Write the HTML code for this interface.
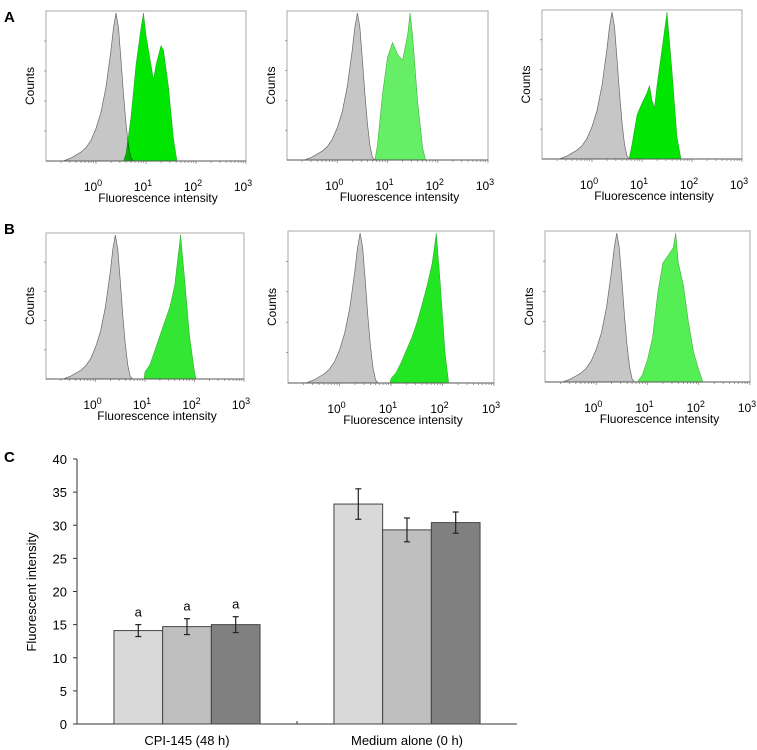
<!DOCTYPE html>
<html><head><meta charset="utf-8"><style>
body{margin:0;background:#fff}
svg{display:block;font-family:"Liberation Sans",sans-serif}
</style></head><body>
<svg id="fig" width="757" height="750" viewBox="0 0 757 750">
<text x="4" y="22" font-size="15" font-weight="bold">A</text>
<text x="4" y="234" font-size="15" font-weight="bold">B</text>
<text x="4" y="462" font-size="15" font-weight="bold">C</text>
</svg>
<script>
const NS="http://www.w3.org/2000/svg";
const svg=document.getElementById('fig');
function mk(t,a,p){const e=document.createElementNS(NS,t);for(const k in a)e.setAttribute(k,a[k]);(p||svg).appendChild(e);return e;}

// ---- Histogram data (log10 fluorescence, relative counts) ----
const grayLogA1=[-0.65,-0.5,-0.4,-0.3,-0.2,-0.1,0,0.1,0.2,0.3,0.35,0.4,0.45,0.5,0.55,0.6,0.65,0.7,0.75];
const grayCntA1=[0,0.02,0.04,0.06,0.09,0.14,0.22,0.33,0.5,0.75,0.9,1.0,0.9,0.68,0.45,0.25,0.1,0.02,0];
const greenLogA1=[0.55,0.6,0.7,0.8,0.9,0.95,1.0,1.1,1.15,1.2,1.3,1.35,1.45,1.55,1.62];
const greenCntA1=[0,0.05,0.3,0.65,0.9,1.0,0.85,0.65,0.55,0.65,0.78,0.75,0.5,0.15,0];
const greenLogA2=[0.75,0.8,0.9,1.0,1.1,1.2,1.3,1.4,1.45,1.5,1.6,1.7,1.76];
const greenCntA2=[0,0.1,0.45,0.7,0.8,0.72,0.68,0.85,1.0,0.85,0.4,0.08,0];
const greenLogA3=[0.74,0.8,0.9,1.0,1.1,1.15,1.2,1.25,1.3,1.4,1.5,1.6,1.7,1.78];
const greenCntA3=[0,0.1,0.3,0.38,0.45,0.5,0.4,0.35,0.5,0.75,1.0,0.6,0.15,0];
const greenLogB1=[0.98,1.0,1.1,1.2,1.3,1.4,1.5,1.6,1.65,1.72,1.8,1.9,2.0,2.03];
const greenCntB1=[0,0.05,0.1,0.2,0.3,0.4,0.5,0.65,0.8,1.0,0.7,0.3,0.05,0];
const greenLogB2=[0.98,1.0,1.1,1.2,1.3,1.4,1.5,1.6,1.7,1.8,1.88,1.95,2.05,2.12];
const greenCntB2=[0,0.03,0.07,0.14,0.22,0.3,0.4,0.52,0.65,0.8,1.0,0.7,0.2,0];
const greenLogB3=[0.8,0.9,1.0,1.1,1.2,1.3,1.4,1.5,1.55,1.6,1.7,1.8,1.9,2.0,2.08];
const greenCntB3=[0,0.05,0.15,0.3,0.6,0.8,0.85,0.9,1.0,0.8,0.65,0.4,0.2,0.08,0];

const panels=[
 {n:'a1',x:46,y:11,w:200,h:150,gl:grayLogA1,gc:grayCntA1,sl:greenLogA1,sc:greenCntA1,col:'#00e600'},
 {n:'a2',x:287,y:11,w:201,h:149,gl:grayLogA1,gc:grayCntA1,sl:greenLogA2,sc:greenCntA2,col:'#66ee66'},
 {n:'a3',x:542,y:10,w:200,h:149,gl:grayLogA1,gc:grayCntA1,sl:greenLogA3,sc:greenCntA3,col:'#00e600'},
 {n:'b1',x:46,y:233,w:198,h:146,gl:grayLogA1,gc:grayCntA1,sl:greenLogB1,sc:greenCntB1,col:'#33e633'},
 {n:'b2',x:288,y:231,w:206,h:152,gl:grayLogA1,gc:grayCntA1,sl:greenLogB2,sc:greenCntB2,col:'#22e622'},
 {n:'b3',x:545,y:231,w:205,h:151,gl:grayLogA1,gc:grayCntA1,sl:greenLogB3,sc:greenCntB3,col:'#55ee55'}
];
panels.forEach(p=>{
  const g=mk('g',{});
  
  
  const X=v=>p.x+(v+1)/4*p.w, Y=c=>p.y+p.h-c*(p.h-2);
  const area=(ls,cs)=>{let d='M'+X(ls[0])+','+Y(0);ls.forEach((l,i)=>d+=' L'+X(l).toFixed(1)+','+Y(cs[i]).toFixed(1));return d+' L'+X(ls[ls.length-1])+','+Y(0)+'Z';};
  const frame=mk('rect',{x:p.x,y:p.y,width:p.w,height:p.h,fill:'none',stroke:'#aaa','stroke-width':1},g);
  
  
  const gr=mk('path',{d:area(p.gl,p.gc),fill:'#c6c6c6',stroke:'#666','stroke-width':0.7},g);
  
  
  const gn=mk('path',{d:area(p.sl,p.sc),fill:p.col,stroke:'#1a8a1a','stroke-width':0.4,style:'mix-blend-mode:multiply'},g);
  
  
  mk('line',{x1:p.x,y1:p.y+p.h,x2:p.x+p.w,y2:p.y+p.h,stroke:'#555','stroke-width':1},g);
  for(let d=-1;d<3;d++)for(let k=2;k<=10;k++){const xx=X(d+Math.log10(k));mk('line',{x1:xx,y1:p.y+p.h,x2:xx,y2:p.y+p.h+(k==10?3:2),stroke:'#777','stroke-width':0.7},g);}
  for(let k=1;k<=4;k++){const yy=p.y+p.h*k/5;mk('line',{x1:p.x,y1:yy,x2:p.x-2,y2:yy,stroke:'#777','stroke-width':0.7},g);}
  for(let d=0;d<=3;d++){const t=mk('text',{x:X(d)-3,y:p.y+p.h+30,'font-size':12,'text-anchor':'middle'},g);t.innerHTML='10<tspan dy="-5" font-size="9">'+d+'</tspan>';
    }
  const xl=mk('text',{x:p.x+p.w/2+12,y:p.y+p.h+41,'font-size':12,'text-anchor':'middle'},g);xl.textContent='Fluorescence intensity';
  
  const yl=mk('text',{transform:`translate(${p.x-12},${p.y+p.h/2}) rotate(-90)`,'font-size':12,'text-anchor':'middle'},g);yl.textContent='Counts';
  
});

// ---- Bar chart C ----
const groups=['CPI-145 (48 h)','Medium alone (0 h)'];
const means=[[14.1,14.7,15.0],[33.2,29.3,30.4]];
const errs=[[0.9,1.2,1.2],[2.3,1.8,1.6]];
const sigLabels=[['a','a','a'],['','','']];
const yTicks=[0,5,10,15,20,25,30,35,40];
const fills=['#d9d9d9','#bfbfbf','#808080'];
const cx0=77,cx1=517,cy0=724,cy1=459;
const Yc=v=>cy0-v/40*(cy0-cy1);
const bw=48.7;
const c=mk('g',{});


mk('line',{x1:cx0,y1:cy1,x2:cx0,y2:cy0,stroke:'#333'},c);
mk('line',{x1:cx0,y1:cy0,x2:cx1,y2:cy0,stroke:'#333'},c);
mk('line',{x1:(cx0+cx1)/2,y1:cy0,x2:(cx0+cx1)/2,y2:cy0-3,stroke:'#333'},c);
yTicks.forEach(v=>{mk('line',{x1:cx0-4,y1:Yc(v),x2:cx0,y2:Yc(v),stroke:'#333'},c);
  const t=mk('text',{x:cx0-10,y:Yc(v)+5,'font-size':13,'text-anchor':'end'},c);t.textContent=v;
  });
const yt=mk('text',{transform:'translate(36,592) rotate(-90)','font-size':13,'text-anchor':'middle'},c);yt.textContent='Fluorescent intensity';

const gw=(cx1-cx0)/groups.length;
groups.forEach((gname,gi)=>{
  const center=cx0+gw*(gi+0.5);
  const lt=mk('text',{x:center,y:745,'font-size':13,'text-anchor':'middle'},c);lt.textContent=gname;
  
  means[gi].forEach((m,i)=>{
    const x=center-1.5*bw+i*bw;
    const r=mk('rect',{x:x,y:Yc(m),width:bw,height:cy0-Yc(m),fill:fills[i],stroke:'#444','stroke-width':1},c);
    
    
    const mx=x+bw/2,e=errs[gi][i];
    mk('line',{x1:mx,y1:Yc(m+e),x2:mx,y2:Yc(m-e),stroke:'#222','stroke-width':1.2},c);
    mk('line',{x1:mx-3,y1:Yc(m+e),x2:mx+3,y2:Yc(m+e),stroke:'#222','stroke-width':1.2},c);
    mk('line',{x1:mx-3,y1:Yc(m-e),x2:mx+3,y2:Yc(m-e),stroke:'#222','stroke-width':1.2},c);
    if(sigLabels[gi][i]){const s=mk('text',{x:mx,y:Yc(m+e)-8,'font-size':13,'text-anchor':'middle'},c);s.textContent=sigLabels[gi][i];
      }
  });
});
</script>
</body></html>
